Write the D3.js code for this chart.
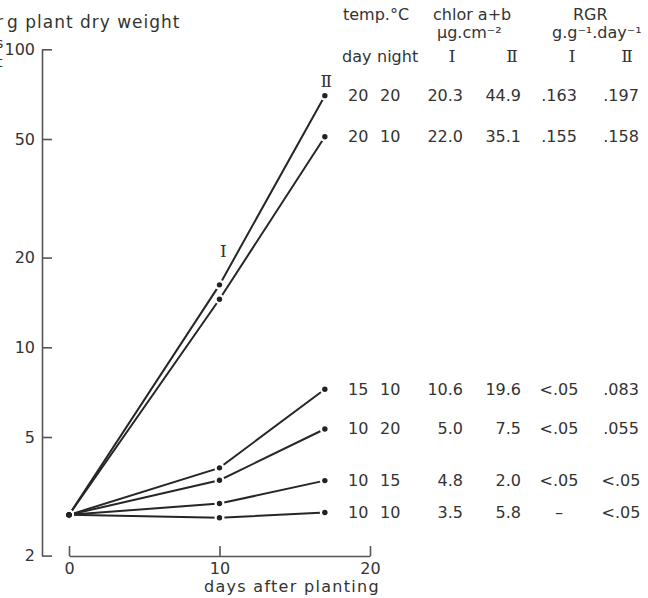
<!DOCTYPE html>
<html>
<head>
<meta charset="utf-8">
<script src="https://cdn.jsdelivr.net/npm/d3@7.9.0/dist/d3.min.js"></script>
<style>
  body { margin: 0; background: #fff; }
  svg { display: block; }
  text { font-family: "DejaVu Sans", sans-serif; fill: #333; }
  text.roman { font-family: "DejaVu Serif", serif; }
</style>
</head>
<body>
<svg id="chart" width="648" height="598"></svg>
<script>
// days after planting
let days = [0, 10, 17];
let xTicks = [0, 10, 20];
let yTicks = [2, 5, 10, 20, 50, 100];

// dry weight (mg per plant) for each day/night regime
let w2020 = [2.74, 16.2, 69.9];
let w2010 = [2.74, 14.5, 50.9];
let w1510 = [2.74, 3.94, 7.23];
let w1020 = [2.74, 3.58, 5.32];
let w1015 = [2.74, 2.99, 3.57];
let w1010 = [2.74, 2.68, 2.79];

// table columns
let tempDay   = ["20", "20", "15", "10", "10", "10"];
let tempNight = ["20", "10", "10", "20", "15", "10"];
let chlorI    = ["20.3", "22.0", "10.6", "5.0", "4.8", "3.5"];
let chlorII   = ["44.9", "35.1", "19.6", "7.5", "2.0", "5.8"];
let rgrI      = [".163", ".155", "<.05", "<.05", "<.05", "–"];
let rgrII     = [".197", ".158", ".083", ".055", "<.05", "<.05"];

let series = [w2020, w2010, w1510, w1020, w1015, w1010];

let svg = d3.select('#chart');
svg.append('rect').attr('width', 648).attr('height', 598).attr('fill', '#fff');

let x = d3.scaleLinear().domain([0, 20]).range([69, 370]);
let y = d3.scaleLog().domain([2, 100]).range([555.6, 49.3]);

// y axis, ticks pointing inward
let yAxis = svg.append('g')
  .attr('transform', 'translate(42,0)')
  .call(d3.axisLeft(y).tickValues(yTicks).tickFormat(d3.format('d'))
    .tickSizeInner(-10).tickSizeOuter(0).tickPadding(7));

// x axis, ticks pointing up
let xAxis = svg.append('g')
  .attr('transform', 'translate(0,556)')
  .call(d3.axisBottom(x).tickValues(xTicks)
    .tickSizeInner(-10).tickSizeOuter(0).tickPadding(7));

[yAxis, xAxis].forEach(g => {
  g.selectAll('path, line').attr('stroke', '#555').attr('stroke-width', 1.6);
  g.selectAll('text')
    .attr('font-family', '"DejaVu Sans", sans-serif')
    .attr('font-size', 16).attr('fill', '#333');
});

// lines
let line = d3.line().x((d, i) => x(days[i])).y(d => y(d));
svg.append('g').selectAll('path')
  .data(series)
  .join('path')
  .attr('d', d => line(d))
  .attr('fill', 'none')
  .attr('stroke', '#262626')
  .attr('stroke-width', 2);

// dots with a small white gap around them
let pts = series.flatMap(s => s.map((v, i) => [days[i], v]));
svg.append('g').selectAll('circle')
  .data(pts)
  .join('circle')
  .attr('cx', d => x(d[0])).attr('cy', d => y(d[1]))
  .attr('r', 5).attr('fill', '#fff');
svg.append('g').selectAll('circle')
  .data(pts)
  .join('circle')
  .attr('cx', d => x(d[0])).attr('cy', d => y(d[1]))
  .attr('r', 2.7).attr('fill', '#222');

// experiment labels on the lines
svg.append('text').attr('class', 'roman').attr('x', x(10.25)).attr('y', y(16.2) - 28)
  .attr('text-anchor', 'middle').attr('font-size', 17).text('Ⅰ');
svg.append('text').attr('class', 'roman').attr('x', x(17.1)).attr('y', y(69.9) - 9)
  .attr('text-anchor', 'middle').attr('font-size', 17).text('Ⅱ');

// axis titles (left edge is clipped in the original)
let title = svg.append('g').attr('font-size', 17);
title.append('text').attr('x', -4).attr('y', 28).text('r');
title.append('text').attr('x', 7).attr('y', 28).attr('letter-spacing', 1).text('g plant dry weight');
title.append('text').attr('x', -4).attr('y', 48).attr('font-size', 14).text('s');
title.append('text').attr('x', -3).attr('y', 67).attr('font-size', 14).text('t');

svg.append('text').attr('x', 380).attr('y', 592).attr('text-anchor', 'end')
  .attr('font-size', 16).attr('letter-spacing', 1.3).text('days after planting');

// table header
let head = svg.append('g').attr('font-size', 16);
head.append('text').attr('x', 343).attr('y', 20).text('temp.°C');
head.append('text').attr('x', 433).attr('y', 20).text('chlor a+b');
head.append('text').attr('x', 573).attr('y', 20).text('RGR');
head.append('text').attr('x', 437).attr('y', 38).text('μg.cm⁻²');
head.append('text').attr('x', 552).attr('y', 38).text('g.g⁻¹.day⁻¹');
head.append('text').attr('x', 342).attr('y', 62).text('day');
head.append('text').attr('x', 377).attr('y', 62).text('night');
[[452, 'Ⅰ'], [512, 'Ⅱ'], [572, 'Ⅰ'], [627, 'Ⅱ']].forEach(([cx, t]) => {
  head.append('text').attr('class', 'roman').attr('x', cx).attr('y', 62)
    .attr('text-anchor', 'middle').attr('font-size', 17).text(t);
});

// table rows, aligned with the end of each line
let columns = [
  { vals: tempDay,   x: 348, anchor: 'start' },
  { vals: tempNight, x: 380, anchor: 'start' },
  { vals: chlorI,    x: 463, anchor: 'end' },
  { vals: chlorII,   x: 521, anchor: 'end' },
  { vals: rgrI,      x: 559, anchor: 'middle' },
  { vals: rgrII,     x: 621, anchor: 'middle' }
];
let rows = svg.append('g').attr('font-size', 16);
columns.forEach(col => {
  rows.selectAll(null)
    .data(col.vals)
    .join('text')
    .attr('x', col.x)
    .attr('y', (d, i) => y(series[i][2]))
    .attr('dy', '0.33em')
    .attr('text-anchor', col.anchor)
    .text(d => d);
});
</script>
</body>
</html>
